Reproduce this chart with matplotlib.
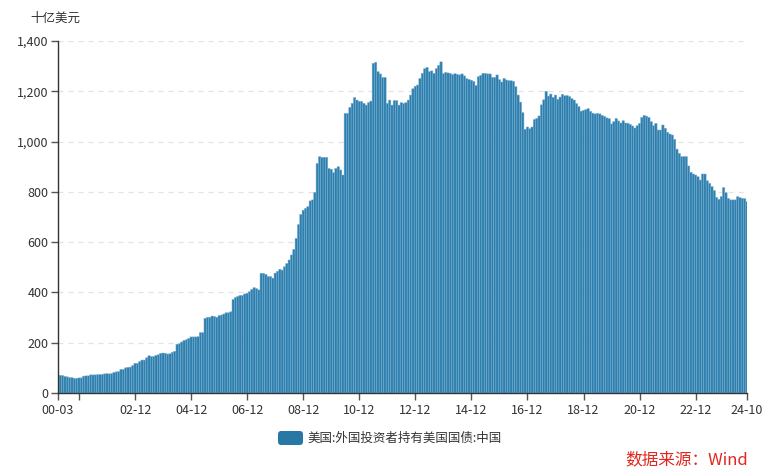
import matplotlib
matplotlib.use("Agg")
import matplotlib.pyplot as plt
import matplotlib.patches as mpatches
from matplotlib.transforms import IdentityTransform
from matplotlib.ticker import FuncFormatter

plt.rcParams['font.family'] = ['Noto Sans CJK SC', 'DejaVu Sans']

# China's holdings of US Treasuries, billion USD, monthly 2000-03 .. 2024-10
v2000 = [70, 70, 69, 66, 64, 61, 61, 58, 58, 60]  # Mar-Dec
v2001 = [60, 67, 68, 68, 72, 72, 72, 73, 73, 74, 76, 77]
v2002 = [76, 77, 82, 84, 85, 94, 94, 100, 102, 103, 109, 118]
v2003 = [118, 125, 131, 131, 140, 148, 145, 145, 150, 152, 158, 159]
v2004 = [158, 155, 156, 162, 166, 194, 196, 203, 209, 212, 217, 223]
v2005 = [223, 223, 224, 240, 240, 297, 301, 301, 306, 304, 301, 308]
v2006 = [310, 314, 319, 319, 323, 372, 380, 384, 388, 388, 394, 397]
v2007 = [403, 412, 419, 415, 410, 476, 476, 472, 463, 463, 457, 477]
v2008 = [484, 492, 489, 502, 515, 529, 549, 571, 615, 670, 710, 727]
v2009 = [734, 741, 764, 768, 798, 913, 940, 937, 937, 937, 893, 890]
v2010 = [876, 893, 900, 887, 867, 1112, 1112, 1136, 1152, 1175, 1165, 1160]
v2011 = [1159, 1152, 1145, 1155, 1161, 1311, 1315, 1278, 1269, 1255, 1255, 1152]
v2012 = [1165, 1145, 1163, 1163, 1145, 1155, 1152, 1155, 1165, 1185, 1210, 1220]
v2013 = [1225, 1251, 1271, 1290, 1295, 1278, 1281, 1271, 1290, 1303, 1317, 1270]
v2014 = [1275, 1273, 1271, 1266, 1270, 1267, 1265, 1269, 1261, 1250, 1247, 1244]
v2015 = [1239, 1223, 1258, 1263, 1271, 1271, 1269, 1269, 1255, 1255, 1265, 1246]
v2016 = [1237, 1251, 1245, 1242, 1242, 1240, 1218, 1185, 1157, 1115, 1049, 1058]
v2017 = [1051, 1058, 1088, 1092, 1102, 1146, 1166, 1200, 1181, 1189, 1176, 1185]
v2018 = [1168, 1177, 1188, 1182, 1183, 1179, 1171, 1165, 1151, 1139, 1121, 1124]
v2019 = [1127, 1131, 1120, 1113, 1110, 1112, 1110, 1104, 1100, 1094, 1091, 1070]
v2020 = [1079, 1092, 1082, 1074, 1083, 1074, 1073, 1068, 1062, 1054, 1063, 1072]
v2021 = [1096, 1104, 1101, 1096, 1079, 1063, 1072, 1046, 1046, 1066, 1053, 1037]
v2022 = [1030, 1026, 1009, 970, 953, 940, 940, 940, 903, 878, 871, 867]
v2023 = [860, 847, 871, 871, 844, 834, 821, 805, 778, 770, 781, 817]
v2024 = [797, 774, 768, 768, 768, 781, 777, 774, 773, 761]  # Jan-Oct

values = (v2000 + v2001 + v2002 + v2003 + v2004 + v2005 + v2006 + v2007 + v2008
          + v2009 + v2010 + v2011 + v2012 + v2013 + v2014 + v2015 + v2016 + v2017
          + v2018 + v2019 + v2020 + v2021 + v2022 + v2023 + v2024)

# month labels yy-mm
months = []
y, m = 2000, 3
for _ in range(len(values)):
    months.append(f"{y % 100:02d}-{m:02d}")
    m += 1
    if m > 12:
        m = 1
        y += 1

tick_labels = ["00-03", "00-12", "02-12", "04-12", "06-12", "08-12", "10-12",
               "12-12", "14-12", "16-12", "18-12", "20-12", "22-12", "24-10"]
series_name = "美国:外国投资者持有美国国债:中国"

fig = plt.figure(figsize=(7.62, 4.71), dpi=100)
ax = fig.add_axes([58 / 762, 78 / 471, 689 / 762, 352 / 471])

x = list(range(len(values)))
ax.bar(x, values, width=1.0, color='#2f7fae', edgecolor='#74aed0',
       linewidth=0.35, zorder=2, snap=False)

ax.set_xlim(0, len(values) - 1)
ax.set_ylim(0, 1400)
ax.set_yticks(range(0, 1401, 200))
ax.yaxis.set_major_formatter(FuncFormatter(lambda v, p: f"{int(v):,}"))
ax.grid(axis='y', color='#e3e3e3', linestyle=(0, (4, 4)), linewidth=0.9, zorder=0)

tick_pos = [months.index(t) for t in tick_labels]
shown = [t if t != "00-12" else "" for t in tick_labels]
ax.set_xticks(tick_pos)
ax.set_xticklabels(shown)

for s in ['top', 'right']:
    ax.spines[s].set_visible(False)
for s in ['left', 'bottom']:
    ax.spines[s].set_color('#333333')
    ax.spines[s].set_linewidth(1.0)
    ax.spines[s].set_zorder(3)
ax.tick_params(axis='both', colors='#555555', labelcolor='#333333', labelsize=9,
               length=5, width=1.0)
ax.tick_params(axis='x', pad=3)
ax.tick_params(axis='y', pad=2)

fig.text(55 / 762, 1 - 18 / 471, "十亿美元", ha='center', va='center',
         fontsize=9, color='#333333')

# legend
box = mpatches.FancyBboxPatch((278, 471 - 445), 25, 14,
                              boxstyle='round,pad=0,rounding_size=3',
                              facecolor='#2878a6', edgecolor='none',
                              transform=IdentityTransform())
fig.add_artist(box)
fig.text(307 / 762, 1 - 438 / 471, series_name, ha='left', va='center',
         fontsize=9, color='#333333')

fig.text(748 / 762, 1 - 460 / 471, "数据来源：Wind", ha='right', va='center',
         fontsize=12, color='#e0261e')

fig.savefig("out.png", dpi=100)
